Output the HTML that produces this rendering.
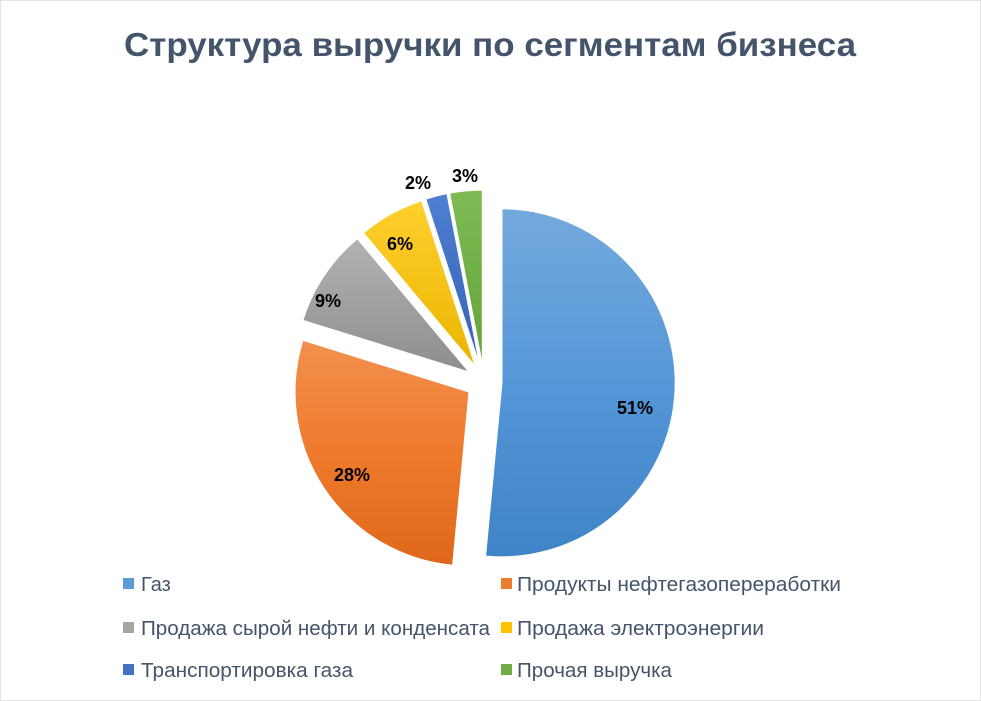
<!DOCTYPE html>
<html><head><meta charset="utf-8"><style>
html,body{margin:0;padding:0;background:#fff;}
svg{display:block;font-family:"Liberation Sans",sans-serif;}
</style></head><body>
<svg id="s" width="981" height="701" viewBox="0 0 981 701" xmlns="http://www.w3.org/2000/svg">
<defs>
<linearGradient id="g0" x1="0" y1="0" x2="0" y2="1"><stop offset="0" stop-color="#74a9dd"/><stop offset="0.5" stop-color="#5597d8"/><stop offset="1" stop-color="#3f84c8"/></linearGradient>
<linearGradient id="g1" x1="0" y1="0" x2="0" y2="1"><stop offset="0" stop-color="#f2904f"/><stop offset="0.5" stop-color="#ef7a2c"/><stop offset="1" stop-color="#e0671a"/></linearGradient>
<linearGradient id="g2" x1="0" y1="0" x2="0" y2="1"><stop offset="0" stop-color="#b2b2b2"/><stop offset="1" stop-color="#8e8e8e"/></linearGradient>
<linearGradient id="g3" x1="0" y1="0" x2="0" y2="1"><stop offset="0" stop-color="#ffcf2e"/><stop offset="1" stop-color="#ebb500"/></linearGradient>
<linearGradient id="g4" x1="0" y1="0" x2="0" y2="1"><stop offset="0" stop-color="#4f7fd0"/><stop offset="1" stop-color="#3462b8"/></linearGradient>
<linearGradient id="g5" x1="0" y1="0" x2="0" y2="1"><stop offset="0" stop-color="#7fbb55"/><stop offset="1" stop-color="#62a43a"/></linearGradient>
</defs>
<rect x="0.5" y="0.5" width="980" height="700" fill="#fff" stroke="#e4e4e4"/>
<text x="490" y="56" text-anchor="middle" font-size="33" font-weight="bold" fill="#44546a" textLength="732" lengthAdjust="spacingAndGlyphs">Структура выручки по сегментам бизнеса</text>
<g id="pie"></g>
<g font-size="18" font-weight="bold" fill="#000" text-anchor="middle">
<text x="635" y="414">51%</text>
<text x="352" y="481">28%</text>
<text x="328" y="307">9%</text>
<text x="400" y="250">6%</text>
<text x="418" y="189">2%</text>
<text x="465" y="182">3%</text>
</g>
<g font-size="20" fill="#44546a">
<rect x="123" y="578" width="11" height="11" fill="#5b9bd5"/><text x="141" y="591">Газ</text>
<rect x="501" y="578" width="11" height="11" fill="#ed7d31"/><text x="517" y="591" textLength="324" lengthAdjust="spacingAndGlyphs">Продукты нефтегазопереработки</text>
<rect x="123" y="622" width="11" height="11" fill="#a5a5a5"/><text x="141" y="635" textLength="349" lengthAdjust="spacingAndGlyphs">Продажа сырой нефти и конденсата</text>
<rect x="501" y="622" width="11" height="11" fill="#ffc000"/><text x="517" y="635" textLength="247" lengthAdjust="spacingAndGlyphs">Продажа электроэнергии</text>
<rect x="123" y="664" width="11" height="11" fill="#4472c4"/><text x="141" y="677" textLength="212" lengthAdjust="spacingAndGlyphs">Транспортировка газа</text>
<rect x="501" y="664" width="11" height="11" fill="#70ad47"/><text x="517" y="677" textLength="155" lengthAdjust="spacingAndGlyphs">Прочая выручка</text>
</g>
</svg>
<script>
(function(){
var v=[51.5,28.3,9.1,6.1,2.0,3.0],cx=484,cy=382,r=174,d=18,a=0,h='';
for(var i=0;i<v.length;i++){
 var a0=a,a1=a+v[i]*3.6;a=a1;
 var m=(a0+a1)/2*Math.PI/180,ox=cx+d*Math.sin(m),oy=cy-d*Math.cos(m);
 var p0=a0*Math.PI/180,p1=a1*Math.PI/180;
 var x0=ox+r*Math.sin(p0),y0=oy-r*Math.cos(p0),x1=ox+r*Math.sin(p1),y1=oy-r*Math.cos(p1);
 var lg=(a1-a0)>180?1:0;
 h+='<path d="M'+ox.toFixed(1)+','+oy.toFixed(1)+'L'+x0.toFixed(1)+','+y0.toFixed(1)+'A'+r+','+r+' 0 '+lg+' 1 '+x1.toFixed(1)+','+y1.toFixed(1)+'Z" fill="url(#g'+i+')" stroke="#fff" stroke-width="1"/>';
}
document.getElementById('pie').innerHTML=h;
})();
</script>
</body></html>
